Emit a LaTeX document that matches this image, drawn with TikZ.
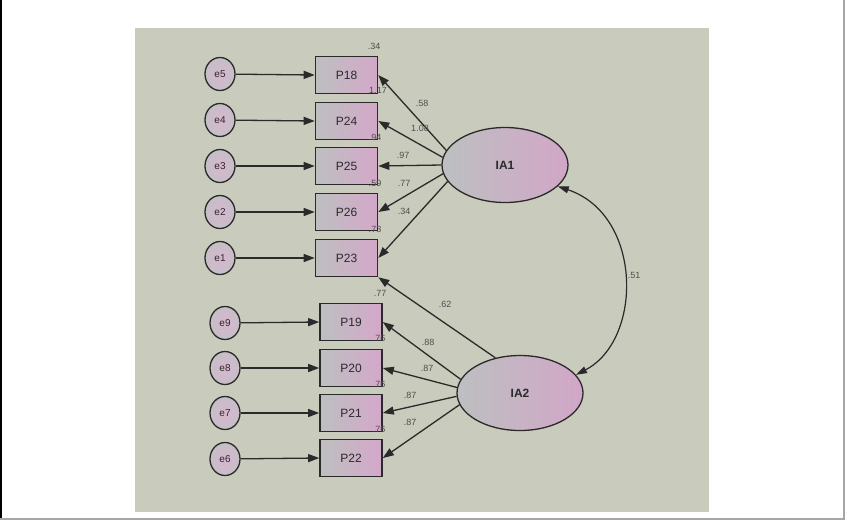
\documentclass[tikz,border=0pt]{standalone}
\usepackage{fontspec}
\setmainfont{Liberation Sans}
\usetikzlibrary{shapes.geometric,arrows.meta}
\definecolor{panel}{HTML}{C9CCBC}
\definecolor{boxgray}{HTML}{BDBFC0}
\definecolor{boxpink}{HTML}{D4A8CA}
\definecolor{errpink}{HTML}{D9B6D0}
\definecolor{errgray}{HTML}{C4BFC6}
\definecolor{lvgray}{HTML}{BCC0C0}
\definecolor{lvpurp}{HTML}{B3A3BD}
\definecolor{lvpink}{HTML}{D2A6C8}
\definecolor{ink}{HTML}{2A2A2A}
\definecolor{lbl}{HTML}{4E4E4E}
\tikzset{
  obs/.style={draw=ink, line width=1.6pt, rectangle, minimum width=62pt, minimum height=37pt,
    left color=boxgray, right color=boxpink, font=\fontsize{12}{12}\selectfont, text=ink, inner sep=0pt},
  err/.style={draw=ink, line width=1.3pt, ellipse, minimum width=30pt, minimum height=33pt,
    inner color=errpink, outer color=errgray, font=\fontsize{10}{10}\selectfont, text=ink, inner sep=0pt},
  lat/.style={draw=ink, line width=1.3pt, ellipse, minimum width=126pt, minimum height=75pt,
    left color=lvgray, middle color=lvpurp, right color=lvpink, font=\bfseries\fontsize{12}{12}\selectfont, text=ink, inner sep=0pt},
  arr/.style={draw=ink, line width=1.3pt, -{Triangle[length=11pt,width=8pt]}},
  darr/.style={draw=ink, line width=1.2pt, {Triangle[length=11pt,width=7pt]}-{Triangle[length=11pt,width=7pt]}},
  wt/.style={font=\fontsize{9}{9}\selectfont, text=lbl, inner sep=0pt},
}
\begin{document}
\begin{tikzpicture}[x=1pt,y=-1pt]
\useasboundingbox (0,0) rectangle (845,520);
\fill[white] (0,0) rectangle (845,520);
\draw[black, line width=1.5pt] (0.75,0) -- (0.75,520);
\draw[gray!70, line width=1.2pt] (0,519) -- (844,519) -- (844,0);
\fill[panel] (135,28) rectangle (709,512);

% observed
\node[obs] (p18) at (346.5,75) {P18};
\node[obs] (p24) at (346.5,121) {P24};
\node[obs] (p25) at (346.5,166) {P25};
\node[obs] (p26) at (346.5,212) {P26};
\node[obs] (p23) at (346.5,258) {P23};
\node[obs] (p19) at (351,322) {P19};
\node[obs] (p20) at (351,368) {P20};
\node[obs] (p21) at (351,413) {P21};
\node[obs] (p22) at (351,458) {P22};

% errors
\node[err] (e5) at (220,74) {e5};
\node[err] (e4) at (220,120) {e4};
\node[err] (e3) at (220,166) {e3};
\node[err] (e2) at (220,212) {e2};
\node[err] (e1) at (220,258) {e1};
\node[err] (e9) at (225,323) {e9};
\node[err] (e8) at (225,368) {e8};
\node[err] (e7) at (225,413) {e7};
\node[err] (e6) at (225,459) {e6};

% latent
\node[lat] (ia1) at (505,165) {IA1};
\node[lat] (ia2) at (520,393) {IA2};

% error arrows
\foreach \e/\p in {e5/p18,e4/p24,e3/p25,e2/p26,e1/p23,e9/p19,e8/p20,e7/p21,e6/p22}
  \draw[arr] (\e) -- (\p.west);

% loadings IA1
\draw[arr] (ia1.166) -- (p18.east);
\draw[arr] (ia1.173) -- (p24.east);
\draw[arr] (ia1.180) -- (p25.east);
\draw[arr] (ia1.188) -- (p26.east);
\draw[arr] (ia1.196) -- (p23.east);
% loadings IA2
\draw[arr] (ia2.125) -- (p23.south east);
\draw[arr] (ia2.167) -- (p19.east);
\draw[arr] (ia2.175) -- (p20.east);
\draw[arr] (ia2.183) -- (p21.east);
\draw[arr] (ia2.191) -- (p22.east);

% covariance
\draw[darr] (ia1.-22) .. controls (643,215) and (643,340) .. (ia2.18);

% labels
\node[wt] at (422,103) {.58};
\node[wt] at (420,128) {1.08};
\node[wt] at (403,155) {.97};
\node[wt] at (404,183) {.77};
\node[wt] at (404,211) {.34};
\node[wt] at (445,304) {.62};
\node[wt] at (428,342) {.88};
\node[wt] at (427,368) {.87};
\node[wt] at (410,395) {.87};
\node[wt] at (410,422) {.87};
\node[wt] at (634,275) {.51};

\node[wt] at (374,46) {.34};
\node[wt] at (378,90) {1.17};
\node[wt] at (375,137) {.94};
\node[wt] at (375,183) {.59};
\node[wt] at (375,229) {.73};
\node[wt] at (380,293) {.77};
\node[wt] at (379,338) {.76};
\node[wt] at (379,384) {.76};
\node[wt] at (379,429) {.76};
\end{tikzpicture}
\end{document}
